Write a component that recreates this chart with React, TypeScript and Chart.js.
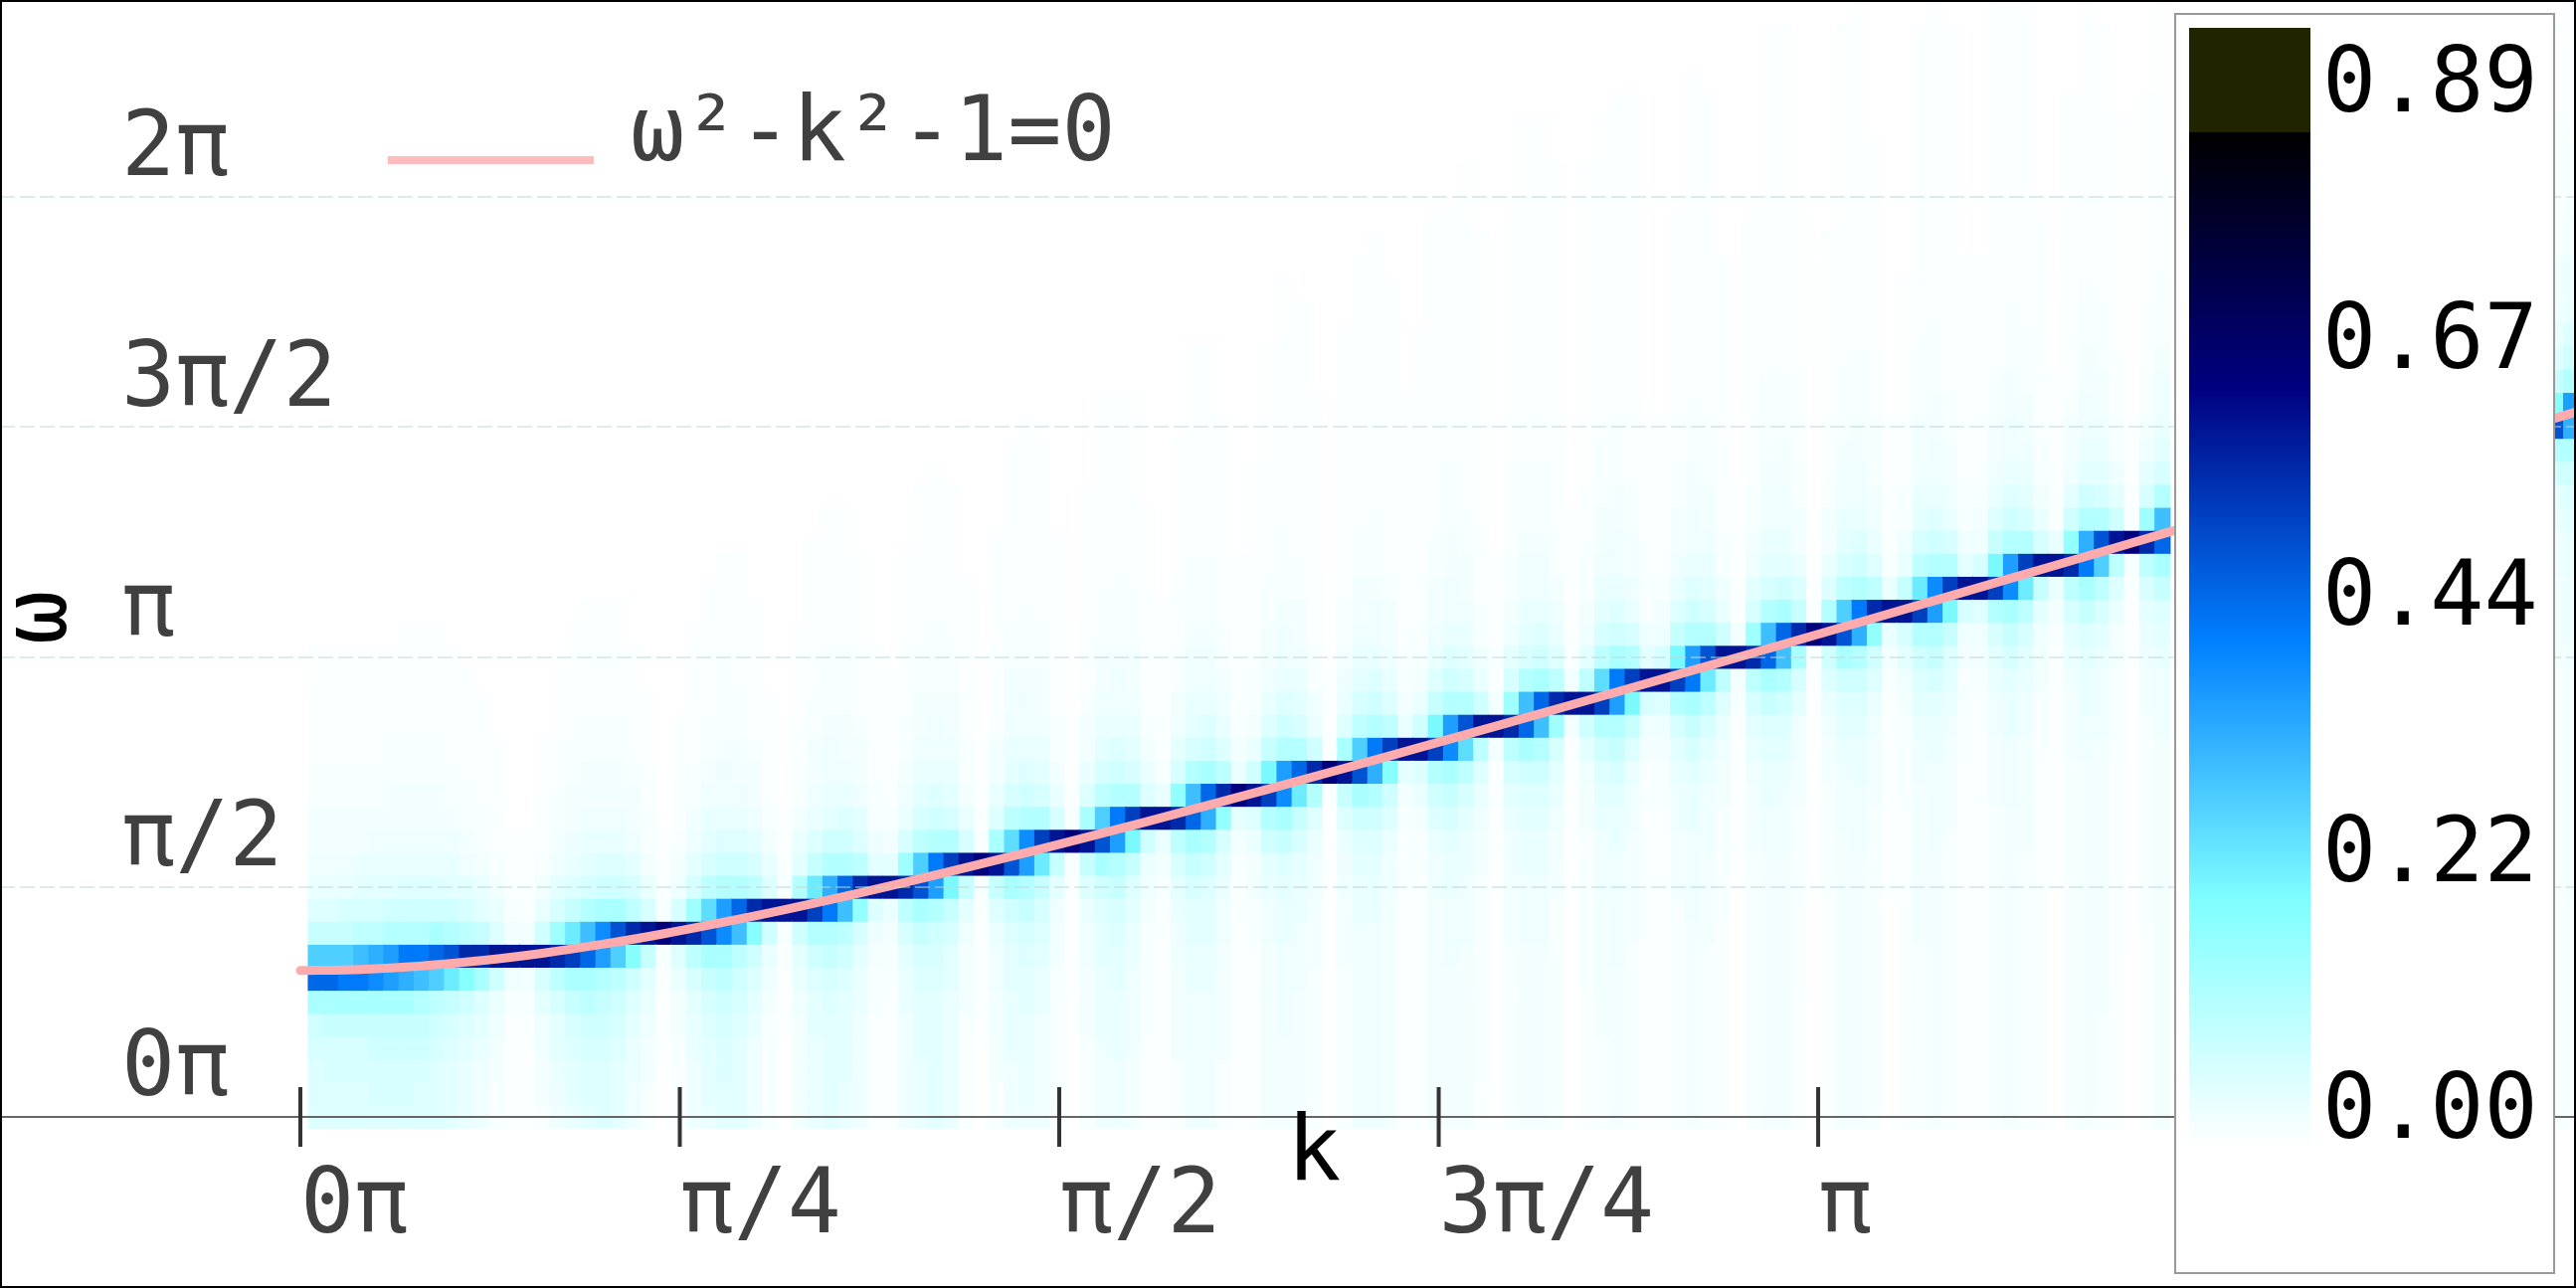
import React, { useEffect, useRef } from "react";
import { Chart, registerables } from "chart.js";

Chart.register(...registerables);

const PI = 3.14159265;

// x axis ticks (radians) and labels
const xTickValues = [0, 0.78539816, 1.57079633, 2.35619449, 3.14159265];
const xTickLabels = ["0π", "π/4", "π/2", "3π/4", "π"];
// y axis ticks (radians) and labels
const yTickValues = [0, 1.57079633, 3.14159265, 4.71238898, 6.28318531];
const yTickLabels = ["0π", "π/2", "π", "3π/2", "2π"];

// dispersion curve samples
const curveK = [0, 0.125, 0.25, 0.375, 0.5, 0.625, 0.75, 1, 1.25, 1.5, 1.75, 2, 2.25, 2.5, 2.75, 3, 3.25, 3.5, 3.75, 4, 4.25, 4.5, 4.75, 5];
const curveOmega = [1, 1.0078, 1.0308, 1.068, 1.118, 1.1792, 1.25, 1.4142, 1.6008, 1.8028, 2.0156, 2.2361, 2.4622, 2.6926, 2.9262, 3.1623, 3.4004, 3.6401, 3.881, 4.1231, 4.3661, 4.6098, 4.8541, 5.099];

const legendLabel = "ω²-k²-1=0";
const colorbarLabels = ["0.89", "0.67", "0.44", "0.22", "0.00"];

// Heat cells: one string per k column, one base-36 intensity level per ω row, from ω=0 upward.
const heatColumnsLeft = [
"aaabcgtnda87665544433","aabbdgtnda87665544433","aabbdgsndb87665544433","aabbdgsoeb98665544433","abbcdgrpeb98765544433",
"abbcdgqqfc98766554433","abbcdgpsfca87665544433","aabcdfosfca87665544433","aaabcentgca87665544433","999abdlufc98765544433",
"8889acjweb9765544433","77789agwd9865544333","556678cxa86544333","3334457x65433","3333456x64433",
"566779bxc86544333","77899bewhb9765544333","899abdgvlda87665544433","9aabcegtofb987665544433","aaabcdfqrgca87665544433",
"999abcenugca87665544433","77889acjweb9766544433","5566789dxb865544333","22233345y5433","4455668axb76544333",
"777889bewhb97655443333","8999abdgumeb987655444333","99aabcegrqfca877655544333","9999abceotfca876655444333","777789acjweb97665444333",
"55555678cxa86544333","222233345x5433","66666789cxf98655443333","888899acfvlda8766554443333","99999abdfspfc98776555444333",
"889999aceotfca8766555444333","77777889biwea976654443333","444445567ax9755443333","4444445568x965443333","77777889bewhb876554443333",
"888999abdguneb98766554443333","999999abcfqsfca87765554443333","88888899bdkvfb98766554443333","5555566679dxb86554433333","22223333345y54333",
"556666778adxga866544433333","77788899acgumeb987665544433333","7888899abdfqrfca877655544433333","77777889abdlvfb987665544433333","55555556679dxb865544333333",
"222222333345y54333","5555666778adxga8665444333333","777788899acguneb9876655444433333","77788899abdfqsfca877655544433333","6667777889adkvfb9876655444333333",
"444455555678cxa865444333333","3333333344568x854433333","55566667789bewib97655444333333","7777778899bdgtofb98776555444333333","7777778899acfptgca8776555444333333",
"555666667789biwea87655444333333","33333333344569y8654433333","4444444455668axc8655443333333","666666667789cfvkda8766554443333333","66667777889adgrqfca877655544443333333",
"666666777889bdltfb987665544443333333","5555555666778afwc875544433333333","222222222223334y4333","5555555666778adxga87655444433333333","777777777889acguneb9876655444433333333",
"777777777889acfpsfca8776555444433333333","6666666666778acjvea876654444333333333","3333333333444569x865443333333333","444444444445568axc86554433333333333","6666666666778acfvkda87665544443333333333",
"6666666777889bdgrqfca8776655544433333333","66666666777889bemufb9876655444433333333333","445555555556678aexc87554443333333333333","22222222222233446x6443333","555555556667789bewhb97655444433333333333",
"66666666777889acgtofb98776555444433333333333","66666666777889acfotgca8776555444433333333333","5555555555666789bhwea876554444333333333333","222222222222333446x64433333","44444455555556679cxe9765544433333333333333",
"555566666677789acfvmeb9876655544433333333333","666666677777889bdfqsgca8776655544443333333333","5555555566666778adkvfb87665544443333333333333","333333444444445567bx97554443333","333333344444445567axb7654443333",
"55555555556667789bfvkda87665544433333333","6666666667777889bdgsqfca8776655544443333333333","55555555666677789belufb9876655544443333333333","444444444555556678aexc8755444433333333","22222222222333334456x6443333",
"555555555555666789bewhb97655444433333333","66666666666677889adgtofb987765555444333333333333","66666666666677789acfotgc987766555444333333333333","4444445555555566779bgwda8665544443333333","111111111122222222334y43222",
"4444444444555556678acxfa866544433333333","666666666666677789acguneb98776555444333333333333","666666666666777889acfpsfca87766555444333333333333","5555555555555566678aciwea876555444333333333","2222222222333333344568x85443333",
"444444444444445555679bxd8755444333333","5555555566666667789acfvleb9876655544433333333333","6666666666667777889bdfqrfca877665554444333333333333","5555555555555666678 9adkvfb8766554444333333333333".replace(" ",""),"3333333333333444445567bx97554443333333",
"3333333333333344444567axb7654443333333","555555555555556667789bfvkda8766554444333333333333","66666666666666777889bdgrqfca8776655544443333333333","555555555555666667789belvfb9876655544443333333333","44444444444444445556679dxb86554443333333",
"222222222223333333344568x85443333","5555555555555555666789bewic976654444333333333","666666666666666677889adgspfc987766555444433333333","5555566666666666677789benufb98766555444433333333","44444444444444445555668aexc97554443333333333",
"1111111122222222222233345y54333","44444444455555555566789bewhb97655444333333333","6666666666666666677789adgtofb98776555444433333333",
];
const heatColumnsRight = [
"5555555555555555555566667789cfujda87665544443333",
"555555555566666666666777889acfpqfca87766555444433",
];

// layout of the heat grid along k and ω (radians)
const kFirstEdge = 0.01647;
const kStep = 0.03133;
const omegaStep = PI / 20;
const rightColumnStart = 148;
const levelTop = 35;
const heatTop = 0.7;

const colormap: number[][] = [
  [255, 255, 255],
  [128, 255, 255],
  [0, 128, 255],
  [0, 0, 128],
  [0, 0, 0],
];

function colorOf(v: number) {
  const t = Math.min(0.9999, (v / heatTop) * 0.8) * 4;
  const i = Math.floor(t);
  const f = t - i;
  const a = colormap[i];
  const b = colormap[i + 1];
  return `rgb(${a.map((c, n) => Math.round(c + (b[n] - c) * f)).join(",")})`;
}

function buildHeat() {
  const cells: { x: number; y: [number, number] }[] = [];
  const colors: string[] = [];
  const add = (col: string, n: number) => {
    const x = kFirstEdge + (n + 0.5) * kStep;
    for (let j = 0; j < col.length; j++) {
      const level = parseInt(col[j], 36);
      const v = heatTop * (level / levelTop) * (level / levelTop);
      cells.push({ x, y: [(j - 0.5) * omegaStep, (j + 0.5) * omegaStep + 0.003] });
      colors.push(colorOf(v));
    }
  };
  heatColumnsLeft.forEach((c, n) => add(c, n));
  heatColumnsRight.forEach((c, n) => add(c, rightColumnStart + n));
  return { cells, colors };
}

const TEXT = "'DejaVu Sans Mono', monospace";

const overlayPlugin = {
  id: "overlay",
  afterDraw(chart: any) {
    const { ctx, scales } = chart;
    const xs = scales.x;
    const y0 = scales.y.getPixelForValue(0);
    ctx.save();
    // tick marks cross the axis line
    ctx.strokeStyle = "#333333";
    ctx.lineWidth = 4;
    xs.ticks.forEach((_: any, i: number) => {
      const p = xs.getPixelForTick(i);
      ctx.beginPath();
      ctx.moveTo(p, y0 - 30);
      ctx.lineTo(p, y0 + 30);
      ctx.stroke();
    });
    // axis titles
    ctx.fillStyle = "#000000";
    ctx.font = `90px ${TEXT}`;
    ctx.textAlign = "left";
    ctx.textBaseline = "alphabetic";
    ctx.fillText("k", 1294, 1186);
    ctx.save();
    ctx.translate(66, 648);
    ctx.rotate(-Math.PI / 2);
    ctx.fillText("ω", 0, 0);
    ctx.restore();
    // legend
    ctx.fillStyle = "#ffbcbc";
    ctx.fillRect(390, 157, 207, 8);
    ctx.fillStyle = "#404040";
    ctx.fillText(legendLabel, 634, 161);
    // colour bar box
    ctx.fillStyle = "#ffffff";
    ctx.fillRect(2186, 13, 383, 1268);
    ctx.strokeStyle = "#999999";
    ctx.lineWidth = 2;
    ctx.strokeRect(2187, 14, 381, 1266);
    const g = ctx.createLinearGradient(0, 1151, 0, 133);
    g.addColorStop(0, "rgb(255,255,255)");
    g.addColorStop(0.2407, "rgb(128,255,255)");
    g.addColorStop(0.498, "rgb(0,128,255)");
    g.addColorStop(0.7475, "rgb(0,0,128)");
    g.addColorStop(1, "rgb(0,0,0)");
    ctx.fillStyle = g;
    ctx.fillRect(2201, 133, 122, 1018);
    ctx.fillStyle = "#202400";
    ctx.fillRect(2201, 28, 122, 105);
    ctx.fillStyle = "#000000";
    colorbarLabels.forEach((t, i) => ctx.fillText(t, 2335, 112 + i * 258));
    // page frame
    ctx.strokeStyle = "#000000";
    ctx.lineWidth = 2;
    ctx.strokeRect(1, 1, 2588, 1293);
    ctx.restore();
  },
};

export default function App() {
  const ref = useRef<HTMLCanvasElement | null>(null);
  useEffect(() => {
    document.body.style.margin = "0";
    const { cells, colors } = buildHeat();
    const chart = new Chart(ref.current as HTMLCanvasElement, {
      type: "line",
      data: {
        datasets: [
          {
            type: "line",
            label: legendLabel,
            data: curveK.map((k, i) => ({ x: k, y: curveOmega[i] })),
            borderColor: "#ffabae",
            borderWidth: 9,
            borderCapStyle: "round",
            pointRadius: 0,
            tension: 0.3,
            order: 0,
          },
          {
            type: "bar",
            label: "spectrum",
            data: cells,
            backgroundColor: colors,
            borderWidth: 0,
            barThickness: 15.7,
            grouped: false,
            order: 1,
          },
        ],
      } as any,
      plugins: [overlayPlugin],
      options: {
        responsive: false,
        devicePixelRatio: 1,
        animation: false,
        events: [],
        layout: { padding: 0, autoPadding: false },
        plugins: { legend: { display: false }, tooltip: { enabled: false }, title: { display: false } },
        scales: {
          x: {
            type: "linear",
            position: { y: 0 },
            offset: false,
            min: -0.6217,
            max: 4.7102,
            afterFit: (s: any) => {
              s.height = 0;
              s.paddingLeft = 0;
              s.paddingRight = 0;
            },
            afterBuildTicks: (s: any) => {
              s.ticks = xTickValues.map((value) => ({ value }));
            },
            grid: { display: false, offset: false, drawTicks: false },
            border: { display: true, color: "#666666", width: 2, z: 1 },
            ticks: {
              z: 2,
              align: "start",
              padding: 39,
              autoSkip: false,
              maxRotation: 0,
              color: "#404040",
              font: { family: TEXT, size: 90 },
              callback: (_: any, i: number) => xTickLabels[i],
            },
          },
          y: {
            type: "linear",
            position: "left",
            min: -1.1685,
            max: 7.629,
            afterFit: (s: any) => {
              s.width = 0;
              s.paddingTop = 0;
              s.paddingBottom = 0;
            },
            afterBuildTicks: (s: any) => {
              s.ticks = yTickValues.map((value) => ({ value }));
            },
            grid: {
              z: 1,
              drawTicks: false,
              lineWidth: 2,
              color: (c: any) => (c.tick && c.tick.value === 0 ? "rgba(0,0,0,0)" : "rgba(190,215,215,0.5)"),
            },
            border: { display: false, dash: [15, 5] },
            ticks: {
              z: 2,
              mirror: true,
              padding: 122,
              labelOffset: -45,
              autoSkip: false,
              color: "#404040",
              font: { family: TEXT, size: 90 },
              callback: (_: any, i: number) => yTickLabels[i],
            },
          },
        },
      } as any,
    });
    return () => chart.destroy();
  }, []);
  return (
    <canvas
      ref={ref}
      width={2590}
      height={1295}
      style={{ position: "fixed", left: 0, top: 0, display: "block", background: "#ffffff" }}
    />
  );
}
